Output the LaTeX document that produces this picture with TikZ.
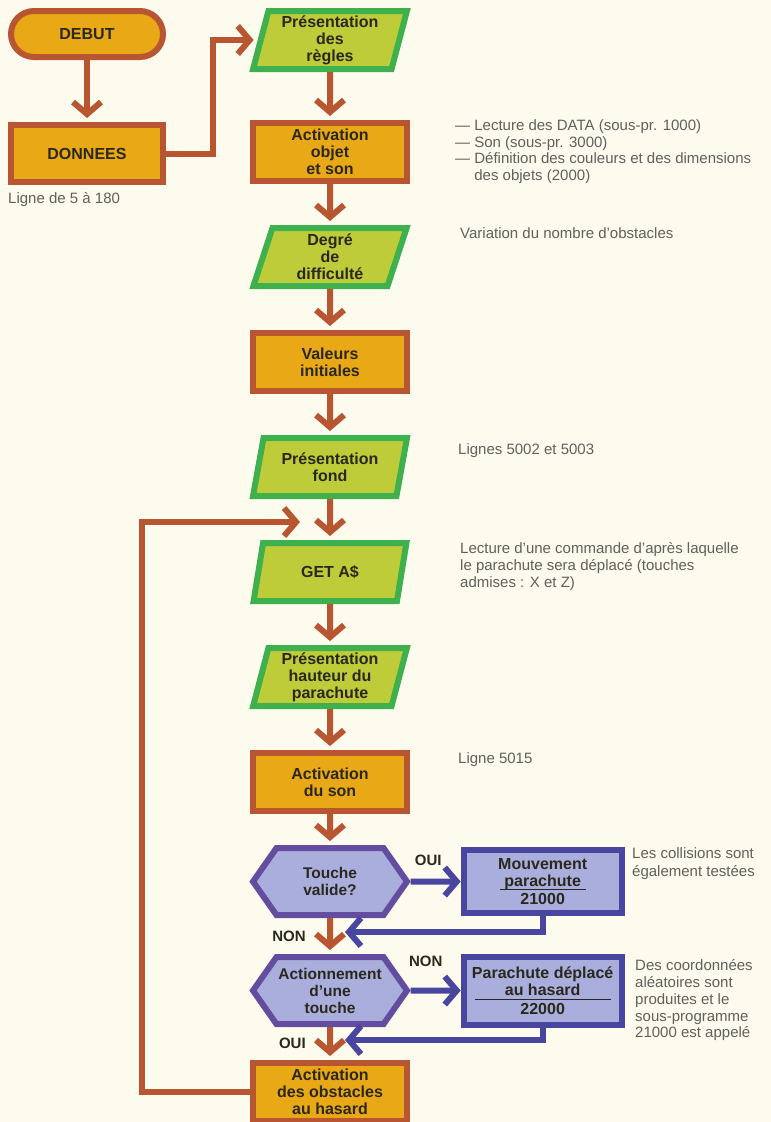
\documentclass[tikz,border=0pt]{standalone}
\usepackage{fontspec}
\setmainfont{Liberation Sans}
\usepackage{xcolor}
\usepackage{tikz}
\usetikzlibrary{positioning, arrows.meta, shapes.geometric, shapes.symbols}

\definecolor{paper}{RGB}{253,251,238}
\definecolor{ochre}{RGB}{233,168,22}
\definecolor{rust}{RGB}{184,86,50}
\definecolor{leaf}{RGB}{62,176,78}
\definecolor{lime}{RGB}{190,204,58}
\definecolor{navy}{RGB}{72,70,158}
\definecolor{lilac}{RGB}{170,174,220}
\definecolor{violet}{RGB}{100,76,158}
\definecolor{ink}{RGB}{42,40,30}
\definecolor{note}{RGB}{96,96,92}

\begin{document}
\begin{tikzpicture}[
    x=1pt, y=-1pt,
    node distance=41pt and 50pt,
    box/.style={rectangle, draw=rust, fill=ochre, line width=6pt, minimum width=154pt, minimum height=58pt, align=center, text=ink, font=\fontsize{16pt}{17pt}\selectfont\bfseries},
    io/.style={trapezium, trapezium left angle=77, trapezium right angle=103, trapezium stretches=true, draw=leaf, fill=lime, line width=6pt, minimum width=154pt, minimum height=58pt, align=center, text=ink, font=\fontsize{16pt}{17pt}\selectfont\bfseries},
    test/.style={signal, signal to=east and west, signal pointer angle=110, draw=violet, fill=lilac, line width=6pt, inner xsep=0pt, inner ysep=2pt, minimum width=154pt, minimum height=67pt, align=center, text=ink, font=\fontsize{15.5pt}{17pt}\selectfont\bfseries},
    sub/.style={rectangle, draw=navy, fill=lilac, line width=6pt, minimum width=158pt, align=center, text=ink, font=\fontsize{16pt}{17pt}\selectfont\bfseries},
    arrow/.style={draw=rust, line width=6pt, -{Straight Barb[length=12pt,width=28pt]}, shorten >=4pt},
    barrow/.style={arrow, draw=navy, shorten >=0pt},
    comment/.style={anchor=north west, inner sep=0pt, align=left, text=note, font=\fontsize{15pt}{16.5pt}\selectfont},
    answer/.style={text=ink, font=\fontsize{15pt}{16pt}\selectfont\bfseries}
]
    \useasboundingbox (0,0) rectangle (771,1122);
    \fill[paper] (0,0) rectangle (771,1122);

    % Start and data
    \node[box, rounded corners=23pt, minimum width=152pt, minimum height=46pt] (debut) at (87,34) {DEBUT};
    \node[box, minimum width=152pt, minimum height=57pt, below=62pt of debut] (donnees) {DONNEES};

    % Main column
    \node[io] (regles) at (330,40) {Présentation\\des\\règles};
    \node[box, below=48pt of regles] (objet) {Activation\\objet\\et son};
    \node[io, below=of objet] (degre) {Degré\\de\\difficulté};
    \node[box, below=of degre] (valeurs) {Valeurs\\initiales};
    \node[io, below=of valeurs] (fond) {Présentation\\fond};
    \node[io, below=of fond] (get) {GET A\$};
    \node[io, below=of get] (hauteur) {Présentation\\hauteur du\\parachute};
    \node[box, below=of hauteur] (son) {Activation\\du son};
    \node[test, below=31pt of son] (touche) {Touche\\valide?};
    \node[test, below=36pt of touche] (action) {Actionnement\\d'une\\touche};
    \node[box, below=33pt of action] (obstacles) {Activation\\des obstacles\\au hasard};

    % Subroutines
    \node[sub, minimum height=63pt, right=of touche] (mouv) {Mouvement\\parachute\\[-14pt]\rule{86pt}{0.7pt}\\[-2pt]21000};
    \node[sub, minimum height=68pt, right=of action] (hasard) {Parachute déplacé\\au hasard\\[-13pt]\rule{136pt}{0.7pt}\\[-2pt]22000};

    % Free ends
    \coordinate (loopin) at (300,522);
    \coordinate (join1) at (345,932);
    \coordinate (join2) at (345,1040);

    % Comments
    \node[comment] (ndonnees) at (8,192.5) {Ligne de 5 à 180};
    \node[comment] (nobjet) at (455,119.5) {— Lecture des DATA (sous-pr. 1000)\\— Son (sous-pr. 3000)\\— Définition des couleurs et des dimensions\\\phantom{— }des objets (2000)};
    \node[comment] (ndegre) at (460,227.5) {Variation du nombre d'obstacles};
    \node[comment] (nfond) at (458,443.5) {Lignes 5002 et 5003};
    \node[comment, font=\fontsize{15pt}{17pt}\selectfont] (nget) at (460,542.5) {Lecture d'une commande d'après laquelle\\le parachute sera déplacé (touches\\admises : X et Z)};
    \node[comment] (nson) at (458,752.5) {Ligne 5015};
    \node[comment, font=\fontsize{15pt}{17.5pt}\selectfont] (nmouv) at (632,847.5) {Les collisions sont\\également testées};
    \node[comment, font=\fontsize{15pt}{16.75pt}\selectfont] (nhasard) at (635,959.5) {Des coordonnées\\aléatoires sont\\produites et le\\sous-programme\\21000 est appelé};

    % Flow
    \draw[arrow] (debut) -- (donnees);
    \draw[arrow] (donnees.east) -- ++(47,0) |- (regles.west);
    \draw[arrow] (regles) -- (objet);
    \draw[arrow] (objet) -- (degre);
    \draw[arrow] (degre) -- (valeurs);
    \draw[arrow] (valeurs) -- (fond);
    \draw[arrow] (fond) -- (get);
    \draw[arrow] (get) -- (hauteur);
    \draw[arrow] (hauteur) -- (son);
    \draw[arrow] (son) -- (touche);
    \draw[arrow] (touche) -- node[answer, left=18pt] {NON} (action);
    \draw[arrow] (action) -- node[answer, left=18pt] {OUI} (obstacles);

    % Branches
    \draw[barrow] (touche) -- node[answer, above=10pt, pos=0.35] {OUI} (mouv);
    \draw[barrow] (action) -- node[answer, above=18pt, pos=0.3] {NON} (hasard);
    \draw[barrow] (mouv.south) |- (join1);
    \draw[barrow] (hasard.south) |- (join2);

    % Loop back
    \draw[arrow, shorten >=0pt] (obstacles.west) -- ++(-108,0) |- (loopin);

\end{tikzpicture}
\end{document}
